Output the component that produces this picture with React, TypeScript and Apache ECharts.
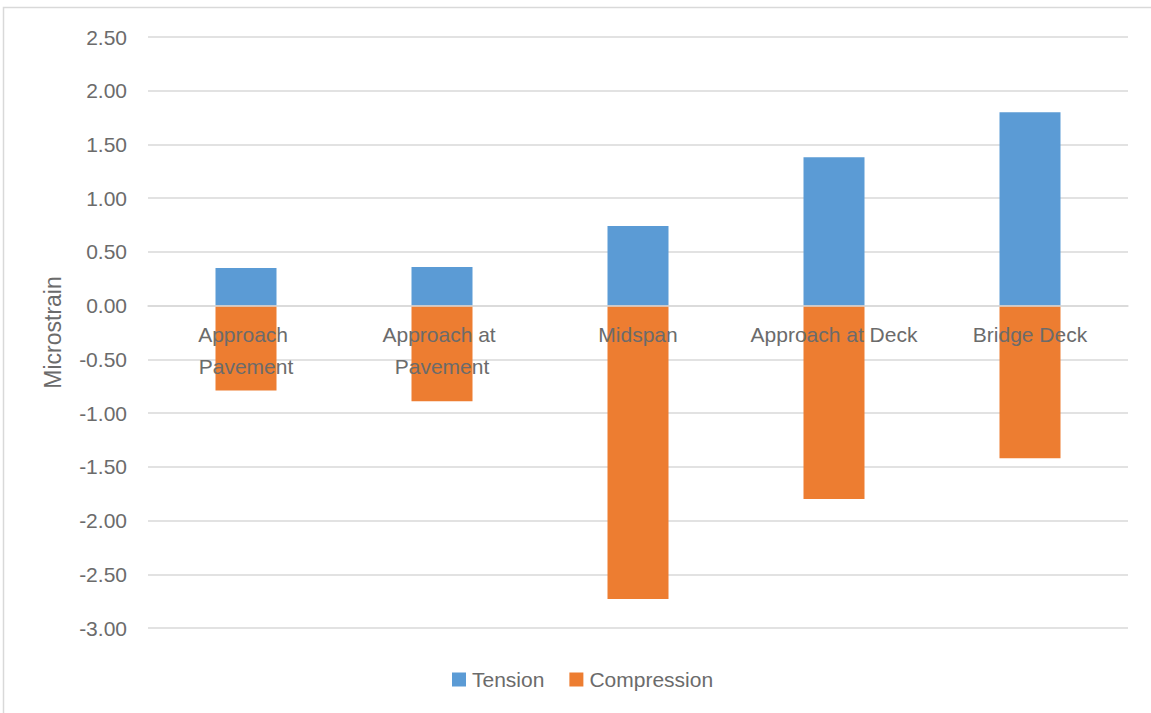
import React, { useEffect, useRef } from "react";
import * as echarts from "echarts";

const categories = ["Approach Pavement", "Approach at Pavement", "Midspan", "Approach at Deck", "Bridge Deck"];
const tension = [0.35, 0.36, 0.74, 1.38, 1.8];
const compression = [-0.79, -0.89, -2.73, -1.8, -1.42];
const yMin = -3;
const yMax = 2.5;
const yStep = 0.5;

const FONT = "'Liberation Sans', Arial, sans-serif";
const TXT = "#6b6b6b";

const W = 1151;
const H = 713;
const GRID_TOP = 37;
const GRID_BOTTOM = 85;

export default function App() {
  const ref = useRef<HTMLDivElement>(null);
  useEffect(() => {
    document.body.style.margin = "0";
    const chart = echarts.init(ref.current!, null, { renderer: "svg" });
    const plotH = H - GRID_TOP - GRID_BOTTOM;
    const zeroOffset = -(plotH * (0 - yMin)) / (yMax - yMin);
    chart.setOption({
      animation: false,
      backgroundColor: "#ffffff",
      textStyle: { fontFamily: FONT },
      graphic: [
        {
          type: "rect",
          shape: { x: 3.5, y: 7.5, width: 1300, height: 900 },
          style: { fill: "none", stroke: "#d9d9d9", lineWidth: 1.5 },
          silent: true,
          z: -1,
        },
      ],
      grid: { left: 148, right: 23, top: GRID_TOP, bottom: GRID_BOTTOM, containLabel: false },
      legend: {
        data: ["Tension", "Compression"],
        left: 447,
        top: 664,
        icon: "rect",
        itemWidth: 14,
        itemHeight: 14,
        itemGap: 25,
        textStyle: { color: TXT, fontSize: 21, fontFamily: FONT, padding: [0, 0, 0, 1] },
      },
      xAxis: {
        type: "category",
        data: categories,
        z: 10,
        position: "bottom",
        offset: zeroOffset,
        axisLine: { onZero: false, lineStyle: { color: "#d9d9d9", width: 1.5 } },
        axisTick: { show: false },
        axisLabel: {
          interval: 0,
          color: TXT,
          fontSize: 21,
          fontFamily: FONT,
          lineHeight: 32,
          margin: 13,
          width: 180,
          overflow: "break",
        },
      },
      yAxis: {
        type: "value",
        min: yMin,
        max: yMax,
        interval: yStep,
        name: "Microstrain",
        nameLocation: "middle",
        nameGap: 84,
        nameTextStyle: { color: TXT, fontSize: 23, fontFamily: FONT },
        axisLine: { show: false },
        axisTick: { show: false },
        splitLine: { lineStyle: { color: "#d9d9d9", width: 1.5 } },
        axisLabel: {
          color: TXT,
          fontSize: 21,
          fontFamily: FONT,
          margin: 21,
          formatter: (v: number) => v.toFixed(2),
        },
      },
      series: [
        {
          name: "Tension",
          type: "bar",
          stack: "s",
          data: tension,
          barWidth: 61,
          itemStyle: { color: "#5b9bd5" },
        },
        {
          name: "Compression",
          type: "bar",
          stack: "s",
          data: compression,
          barWidth: 61,
          itemStyle: { color: "#ed7d31" },
        },
      ],
    });
    return () => chart.dispose();
  }, []);
  return <div ref={ref} style={{ position: "absolute", left: 0, top: 0, width: W, height: H }} />;
}
